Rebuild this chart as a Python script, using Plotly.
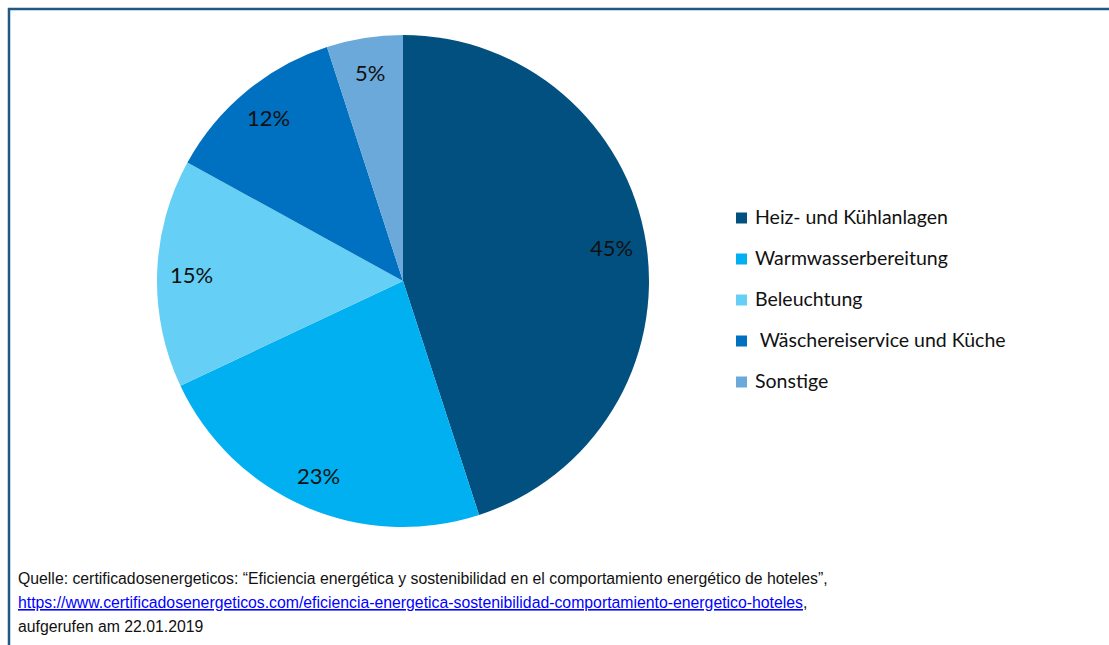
import math
import plotly.graph_objects as go

# Energy use breakdown in hotels (shares in percent)
categories = [
    "Heiz- und Kühlanlagen",
    "Warmwasserbereitung",
    "Beleuchtung",
    " Wäschereiservice und Küche",
    "Sonstige",
]
shares = [45, 23, 15, 12, 5]
colors = ["#01507F", "#00B0F0", "#66CFF5", "#0070C0", "#6AA9D9"]

source_lines = [
    "Quelle: certificadosenergeticos: “Eficiencia energética y sostenibilidad en el comportamiento energético de hoteles”,",
    "https://www.certificadosenergeticos.com/eficiencia-energetica-sostenibilidad-comportamiento-energetico-hoteles",
    "aufgerufen am 22.01.2019",
]

W, H = 1109, 645
# pie geometry in pixels
cx, cy, R = 403, 281, 246


def px(x):
    return x / W


def py(y):
    return 1 - y / H


fig = go.Figure()
fig.add_trace(go.Pie(
    labels=categories,
    values=shares,
    sort=False,
    direction="clockwise",
    rotation=0,
    marker=dict(colors=colors, line=dict(width=0)),
    textinfo="none",
    hoverinfo="label+percent",
    showlegend=False,
    domain=dict(x=[px(cx - R), px(cx + R)], y=[py(cy + R), py(cy - R)]),
))

annotations = []
shapes = []

# percentage labels placed along each slice's mid angle
total = sum(shares)
cum = 0
for v in shares:
    mid = (cum + v / 2) / total * 2 * math.pi
    cum += v
    r = 0.86 * R
    lx = cx + r * math.sin(mid)
    ly = cy - r * math.cos(mid)
    annotations.append(dict(
        x=px(lx), y=py(ly), xref="paper", yref="paper",
        text=f"{v}%", showarrow=False,
        font=dict(family="Lato, Carlito, sans-serif", size=22, color="#111111"),
        xanchor="center", yanchor="middle",
    ))

# legend drawn as square swatches with labels
leg_x, leg_y0, leg_dy, sw = 736, 218, 41, 11
for i, (name, col) in enumerate(zip(categories, colors)):
    yc = leg_y0 + i * leg_dy
    shapes.append(dict(
        type="rect", xref="paper", yref="paper",
        x0=px(leg_x), x1=px(leg_x + sw), y0=py(yc + sw / 2), y1=py(yc - sw / 2),
        fillcolor=col, line=dict(width=0),
    ))
    annotations.append(dict(
        x=px(leg_x + 17), y=py(yc - 1.5), xref="paper", yref="paper",
        text=name.replace(" ", "&nbsp;", 1) if name.startswith(" ") else name,
        showarrow=False,
        font=dict(family="Lato, Carlito, sans-serif", size=19.5, color="#111111"),
        xanchor="left", yanchor="middle",
    ))

# source note
src_font = dict(family="Liberation Sans, Arial, sans-serif", size=15.8, color="#111111")
src_y = [578, 602, 626]
for i, line in enumerate(source_lines):
    txt = line
    if i == 1:
        txt = f"<a href='{line}'><span style='color:#0000FF'><u>{line}</u></span></a>,"
    annotations.append(dict(
        x=px(16), y=py(src_y[i]), xref="paper", yref="paper",
        text=txt, showarrow=False, font=src_font,
        xanchor="left", yanchor="middle",
    ))

# frame lines along the top and left edges
frame_col = "#1D5A86"
shapes.append(dict(type="line", xref="paper", yref="paper",
                   x0=px(8), x1=1, y0=py(9), y1=py(9),
                   line=dict(color=frame_col, width=2.5)))
shapes.append(dict(type="line", xref="paper", yref="paper",
                   x0=px(9), x1=px(9), y0=py(8), y1=0,
                   line=dict(color=frame_col, width=2.5)))

fig.update_layout(
    width=W, height=H,
    margin=dict(l=0, r=0, t=0, b=0),
    paper_bgcolor="white",
    plot_bgcolor="white",
    annotations=annotations,
    shapes=shapes,
)

fig.write_html("out.html")
